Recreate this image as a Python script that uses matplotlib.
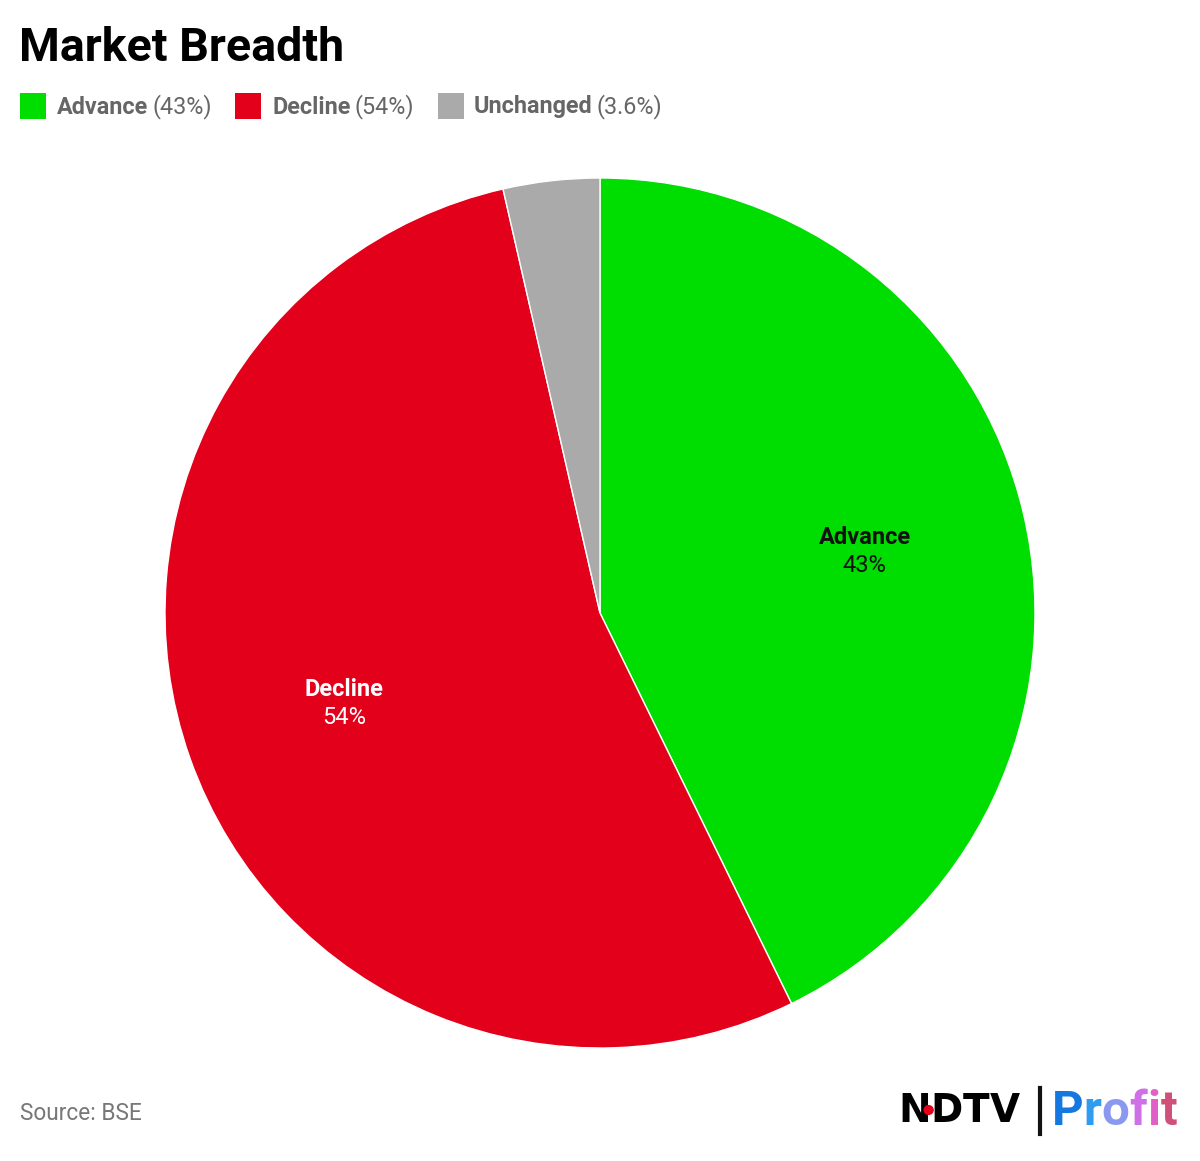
import matplotlib
matplotlib.use("Agg")
import matplotlib.pyplot as plt
from matplotlib.patches import Rectangle
import numpy as np

categories = ["Advance", "Decline", "Unchanged"]
shares = [43, 54, 3.6]
legend_pct = ["(43%)", "(54%)", "(3.6%)"]
slice_pct = ["43%", "54%", "3.6%"]
colors = ["#00DD00", "#E3001B", "#AAAAAA"]
label_colors = ["#111111", "#FFFFFF", "#111111"]

W, H = 1200, 1161
fig = plt.figure(figsize=(W / 100, H / 100), dpi=100)
fig.patch.set_facecolor("white")
plt.rcParams["font.family"] = ["Roboto", "DejaVu Sans"]

def fx(x):
    return x / W

def fy(y):
    return 1 - y / H

# Pie axes
cx, cy, r = 600, 613, 435
ax = fig.add_axes([fx(cx - r), fy(cy + r), 2 * r / W, 2 * r / H])
wedges, _ = ax.pie(shares, colors=colors, startangle=90, counterclock=False,
                   wedgeprops=dict(edgecolor="white", linewidth=1))
ax.set_aspect("equal")
ax.set_xlim(-1, 1)
ax.set_ylim(-1, 1)
ax.axis("off")

total = sum(shares)
start = 90.0
for i, (cat, val) in enumerate(zip(categories, shares)):
    sweep = 360 * val / total
    mid = np.deg2rad(start - sweep / 2)
    start -= sweep
    if val / total < 0.05:
        continue
    d = 0.625
    x, y = d * np.cos(mid), d * np.sin(mid)
    ax.text(x, y + 0.033, cat, ha="center", va="center", fontsize=17,
            fontweight="bold", color=label_colors[i])
    ax.text(x, y - 0.031, slice_pct[i], ha="center", va="center", fontsize=17,
            color=label_colors[i])

# Title
fig.text(fx(19), fy(48), "Market Breadth", fontsize=33.5, fontweight="bold",
         color="#000000", ha="left", va="center")

# Legend
sq_x = [20, 235, 438]
name_x = [57, 272, 474]
pct_x = [153, 355, 597]
for i in range(3):
    fig.patches.append(Rectangle((fx(sq_x[i]), fy(119)), 26 / W, 26 / H,
                                 transform=fig.transFigure, facecolor=colors[i],
                                 edgecolor="none"))
    fig.text(fx(name_x[i]), fy(107), categories[i], fontsize=16.8, fontweight="bold",
             color="#666666", ha="left", va="center")
    fig.text(fx(pct_x[i]), fy(107), legend_pct[i], fontsize=16.8,
             color="#666666", ha="left", va="center")

# Source
fig.text(fx(20), fy(1114), "Source: BSE", fontsize=16.3, color="#777777",
         ha="left", va="center")

# Logo
renderer = fig.canvas.get_renderer()

def place_letters(letters, cols, x0, y, size, weight, family, spacing=0):
    x = x0
    edges = []
    for ch, c in zip(letters, cols):
        t = fig.text(fx(x), fy(y), ch, fontsize=size, fontweight=weight, color=c,
                     ha="left", va="center", family=family)
        bb = t.get_window_extent(renderer=renderer)
        x += bb.width + spacing
        edges.append(x)
    return edges

edges = place_letters(["N", "D", "T", "V"], ["#000000"] * 4, 898, 1111, 28, "heavy",
                      ["DejaVu Sans"], spacing=0)
fig.patches.append(plt.Circle((fx(edges[0] - 2), fy(1110)), 4.5 / W,
                              transform=fig.transFigure, color="#E3001B", zorder=5))
fig.lines.append(plt.Line2D([fx(1040), fx(1040)], [fy(1088), fy(1134)],
                            transform=fig.transFigure, color="#111111", lw=3))
logo_letters = ["P", "r", "o", "f", "i", "t"]
logo_cols = ["#1577E0", "#2F9CF0", "#8A98F0", "#D070E8", "#E060C8", "#D0507A"]
place_letters(logo_letters, logo_cols, 1052, 1112, 35.5, "bold", ["Roboto"], spacing=0)

fig.savefig("out.png", dpi=100, facecolor="white")
